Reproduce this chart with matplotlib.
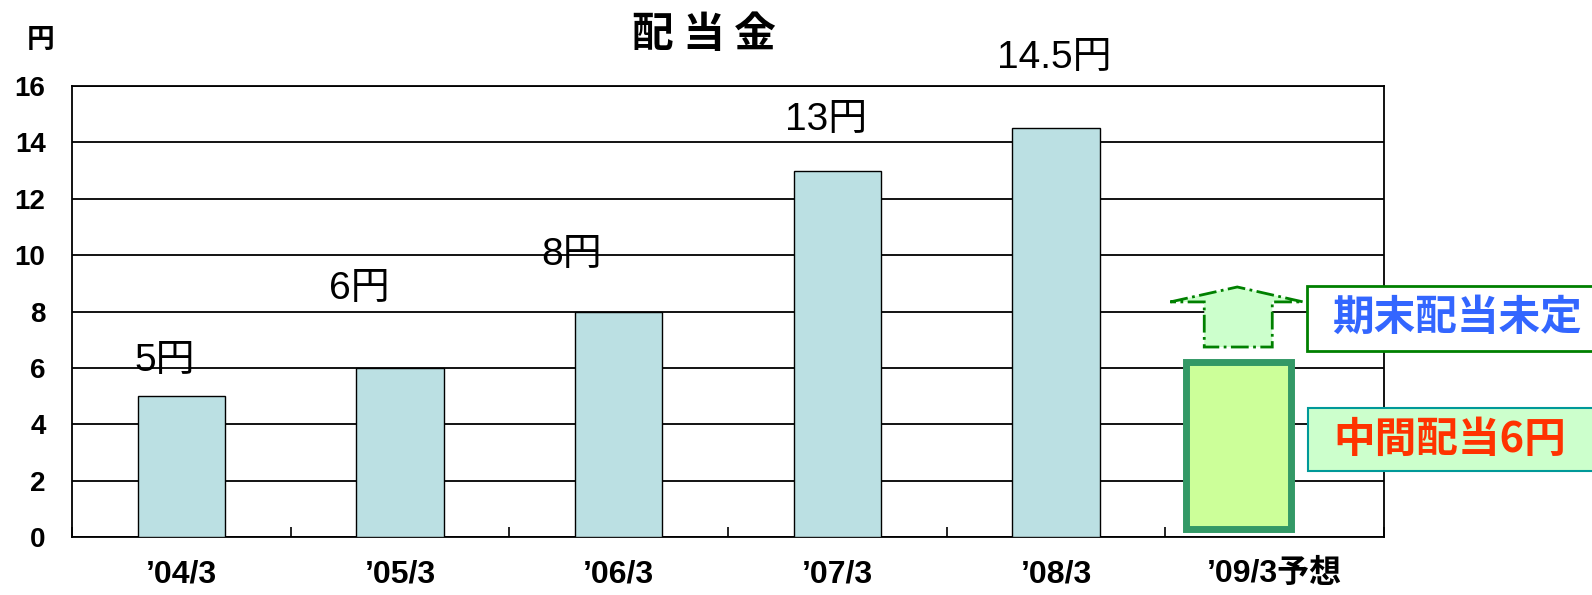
import matplotlib.pyplot as plt
import matplotlib.patches as mpatches
import numpy as np

plt.rcParams['font.family'] = ['Liberation Sans', 'Noto Sans CJK JP']

# data
categories = ["’04/3", "’05/3", "’06/3", "’07/3", "’08/3", "’09/3予想"]
dividends = [5, 6, 8, 13, 14.5]
value_labels = ["5円", "6円", "8円", "13円", "14.5円"]
forecast_interim = 6
interim_text = "中間配当6円"
year_end_text = "期末配当未定"

# label positions (data coords)
label_x = [-0.075, 0.815, 1.783, 2.947, 3.993]
label_y = [6.24, 8.8, 10.0, 14.8, 17.0]

fig = plt.figure(figsize=(15.92, 5.95), dpi=100)
ax = fig.add_axes([72 / 1592, 1 - 537 / 595, (1384 - 72) / 1592, (537 - 86) / 595])

x = np.arange(len(dividends))
ax.bar(x, dividends, width=0.4, color='#bbe0e3', edgecolor='black', linewidth=1.0, zorder=3)

# forecast bar (interim dividend)
ax.bar(5 - 0.167, forecast_interim - 0.1, width=0.479, bottom=0.3, color='#ccff99',
       edgecolor='#339966', linewidth=5, zorder=3)

# dashed arrow (year-end undecided)
arrow_x = [4.523, 4.829, 5.130, 4.989, 4.989, 4.678, 4.678]
arrow_y = [8.34, 8.87, 8.34, 8.34, 6.74, 6.74, 8.34]
ax.add_patch(mpatches.Polygon(list(zip(arrow_x, arrow_y)), closed=True, facecolor='#ccffcc',
                              edgecolor='#008000', linestyle='-.', linewidth=2, zorder=4,
                              clip_on=False))

for lx, ly, t in zip(label_x, label_y, value_labels):
    ax.text(lx, ly, t, fontsize=28, ha='center', va='center', clip_on=False)

ax.set_xlim(-0.5, 5.5)
ax.set_ylim(0, 16)
ax.set_yticks(np.arange(0, 17, 2))
ax.yaxis.grid(True, color='black', linewidth=1.3, zorder=0)
ax.set_axisbelow(True)
ax.tick_params(axis='y', length=0, pad=19, labelsize=20)
for lab in ax.get_yticklabels():
    lab.set_fontweight('bold')

ax.set_xticks(np.arange(-0.5, 6, 1))
ax.set_xticklabels([])
ax.tick_params(axis='x', which='major', direction='in', length=7, width=1.2)
ax.set_xticks(x.tolist() + [5], minor=True)
ax.set_xticklabels(categories, minor=True, fontsize=23, fontweight='bold')
ax.tick_params(axis='x', which='minor', length=0, pad=16)

for s in ax.spines.values():
    s.set_linewidth(1.3)

fig.text(704 / 1592, 1 - 35 / 595, "配 当 金", fontsize=30, fontweight='bold',
         ha='center', va='center', family=['Noto Sans CJK JP'])
fig.text(41 / 1592, 1 - 40 / 595, "円", fontsize=20, fontweight='bold',
         ha='center', va='center', family=['Noto Sans CJK JP'])

# side boxes
fig.patches.append(mpatches.Rectangle((1307 / 1592, 1 - 351 / 595), 0.3, 65 / 595,
                                      transform=fig.transFigure, facecolor='white',
                                      edgecolor='#008000', linewidth=2, zorder=5))
fig.patches.append(mpatches.Rectangle((1308 / 1592, 1 - 471 / 595), 0.3, 63 / 595,
                                      transform=fig.transFigure, facecolor='#ccffcc',
                                      edgecolor='#009999', linewidth=1.5, zorder=5))
fig.text(1332 / 1592, 1 - 318 / 595, year_end_text, fontsize=30, fontweight='bold',
         color='#3366ff', ha='left', va='center', family=['Noto Sans CJK JP'], zorder=6)
fig.text(1333 / 1592, 1 - 440 / 595, interim_text, fontsize=30, fontweight='bold',
         color='#ff3300', ha='left', va='center', family=['Noto Sans CJK JP'], zorder=6)

fig.savefig('out.png', dpi=100)
